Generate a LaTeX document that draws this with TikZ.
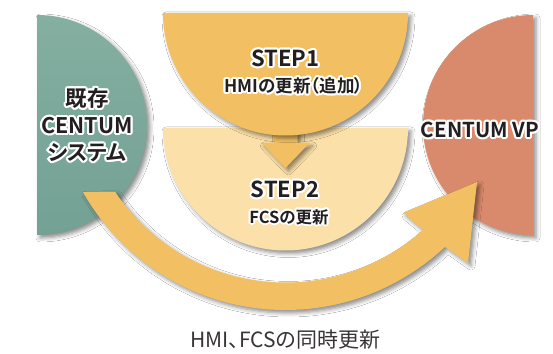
\documentclass[tikz,border=0pt]{standalone}
\usepackage{fontspec}
\setmainfont{Noto Sans CJK JP}[RawFeature=+palt]
\newfontfamily\jpb{Noto Sans CJK JP Bold}[RawFeature=+palt]
\usetikzlibrary{shadows.blur,calc}
\definecolor{cgreen}{HTML}{84AFA1}
\definecolor{cgreenD}{HTML}{73A194}
\definecolor{cred}{HTML}{D98A6C}
\definecolor{cgold}{HTML}{F2C062}
\definecolor{clight}{HTML}{FBE0A9}
\definecolor{ctext}{HTML}{231F20}
\tikzset{
  shd/.style={blur shadow={shadow xshift=3pt,shadow yshift=-3pt,shadow blur radius=4pt,shadow opacity=45}},
  lbl/.style={align=center,inner sep=0pt,text=ctext},
}
\newcommand{\halotext}[4]{%
  \foreach \ang in {0,30,...,330}{\node[lbl,font=#3,text=white] at ($(#1)+(\ang:2.1)$) {#4};}
  \node[lbl,font=#3] (#2) at (#1) {#4};}
\begin{document}
\begin{tikzpicture}[x=1pt,y=1pt]
\fill[white] (0,0) rectangle (553,353);
\useasboundingbox (0,0) rectangle (553,353);
% side half discs
\shade[top color=cgreen,bottom color=cgreenD,shd] (37,338) arc[start angle=90,end angle=-90,radius=110] -- cycle;
\fill[cred,shd] (533,338) arc[start angle=90,end angle=270,radius=110] -- cycle;
% big curved arrow
\begin{scope}[shift={(285.5,276)}]
\fill[cgold,shd] (209.6:233) arc[start angle=209.6,end angle=313.2,radius=233]
  -- (182.5,-186) -- (191.5,-105) -- (117.5,-136) -- (311.95:205.5)
  arc[start angle=311.95,end angle=214,radius=205.5] -- cycle;
\end{scope}
% STEP2 disc
\fill[clight,shd] (163,225) arc[start angle=180,end angle=360,radius=122.5] -- cycle;
% down arrow
\fill[cgold,shd] (273.5,228) -- (273.5,210) -- (261.5,210) -- (285.5,185) -- (309.5,210) -- (297.5,210) -- (297.5,228) -- cycle;
% STEP1 disc
\fill[cgold,shd] (163,340) arc[start angle=180,end angle=360,radius=122.5] -- cycle;
% labels
\halotext{87,228}{lold}{\jpb\fontsize{21.5}{27}\selectfont}{既存\\CENTUM\\システム}
\halotext{480,223}{lnew}{\jpb\fontsize{20.5}{25}\selectfont}{CENTUM VP}
\halotext{285.5,294.5}{s1}{\jpb\fontsize{22}{26}\selectfont}{STEP1}
\halotext{294,267}{s1t}{\jpb\fontsize{17.5}{20}\selectfont}{HMIの更新（追加）}
\halotext{285,163.5}{s2}{\jpb\fontsize{22}{26}\selectfont}{STEP2}
\halotext{289,136}{s2t}{\jpb\fontsize{16.5}{20}\selectfont}{FCSの更新}
\node[lbl,font=\fontsize{21}{25}\selectfont,text=ctext!90] (bot) at (285.5,13) {HMI、FCSの同時更新};
\end{tikzpicture}
\end{document}
